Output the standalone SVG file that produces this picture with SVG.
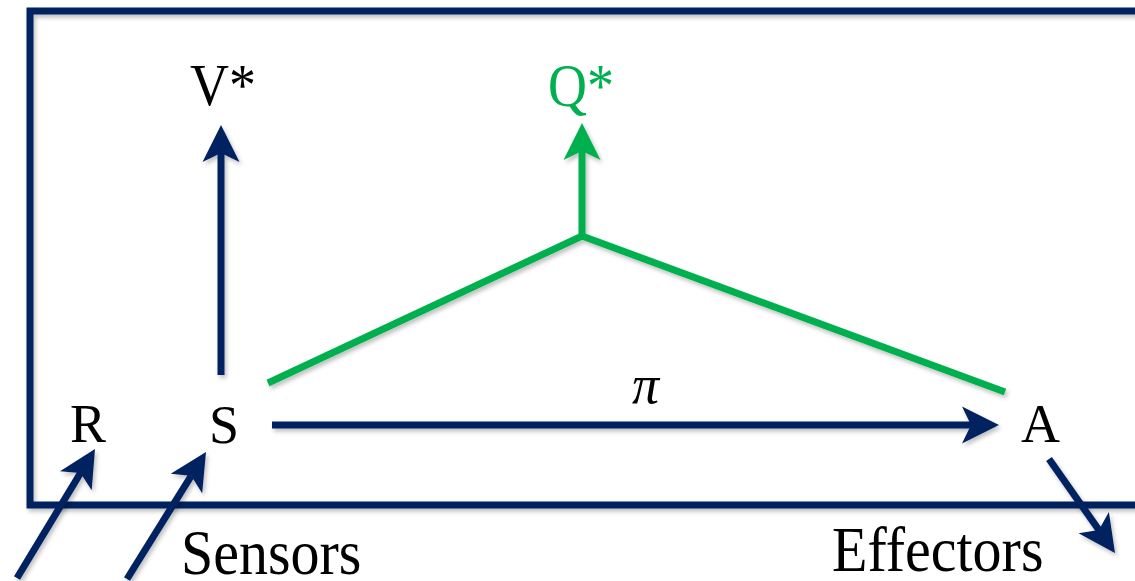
<svg xmlns="http://www.w3.org/2000/svg" width="1135" height="581" viewBox="0 0 1135 581">
<style>
text{font-family:'Liberation Serif','Times New Roman',serif;fill:#000}
.lbl{font-size:54px}
.big{font-size:58px}
.green{fill:#00b050}
.navy{stroke:#002060;stroke-width:7;fill:none}
.gr{stroke:#00b050;stroke-width:7;fill:none}
</style>
<defs>
<filter id="sh" x="-20%" y="-20%" width="140%" height="140%">
<feDropShadow dx="2" dy="3" stdDeviation="2" flood-color="#000" flood-opacity="0.25"/>
</filter>
<marker id="ahN" markerUnits="userSpaceOnUse" viewBox="-10 -20 42 40" refX="0" refY="0" markerWidth="42" markerHeight="40" orient="auto" overflow="visible">
<path d="M28 0 L-9 -18.5 L0 0 L-9 18.5 Z" fill="#002060"/>
</marker>
<marker id="ahG" markerUnits="userSpaceOnUse" viewBox="-10 -20 42 40" refX="0" refY="0" markerWidth="42" markerHeight="40" orient="auto" overflow="visible">
<path d="M28 0 L-9 -18.5 L0 0 L-9 18.5 Z" fill="#00b050"/>
</marker>
</defs>
<rect width="1135" height="581" fill="#fff"/>
<g id="frame" filter="url(#sh)">
<path d="M1145 11 H30 V505 H1145" stroke="#002060" stroke-width="7" fill="none"/>
</g>
<g id="connectors" filter="url(#sh)">
<line class="navy" x1="221" y1="375" x2="221" y2="153" marker-end="url(#ahN)"/>
<polyline class="gr" points="268,383 582,236 1005,392"/>
<line class="gr" x1="582" y1="236" x2="582" y2="151" marker-end="url(#ahG)"/>
<line class="navy" x1="272" y1="425" x2="971" y2="425" marker-end="url(#ahN)"/>
<line class="navy" x1="17" y1="578" x2="80.5" y2="473" marker-end="url(#ahN)"/>
<line class="navy" x1="127" y1="579" x2="191.2" y2="475.8" marker-end="url(#ahN)"/>
<line class="navy" x1="1049" y1="459" x2="1098.9" y2="530.1" marker-end="url(#ahN)"/>
</g>
<g id="node-V"><text class="lbl" font-size="52" transform="translate(190,105) scale(1,1.1)">V*</text></g>
<g id="node-Q"><text class="lbl green" font-size="52" transform="translate(548,106) scale(1,1.15)">Q*</text></g>
<g id="node-R"><text class="lbl" x="70" y="442">R</text></g>
<g id="node-S"><text class="lbl" x="209" y="443">S</text></g>
<g id="node-A"><text class="lbl" x="1021" y="442">A</text></g>
<g id="label-pi"><text class="lbl" x="632" y="403" font-size="64" font-style="italic">π</text></g>
<g id="label-sensors"><text class="big" transform="translate(181,574) scale(1,1.1)">Sensors</text></g>
<g id="label-effectors"><text class="big" transform="translate(832,571) scale(1,1.1)">Effectors</text></g>
</svg>
